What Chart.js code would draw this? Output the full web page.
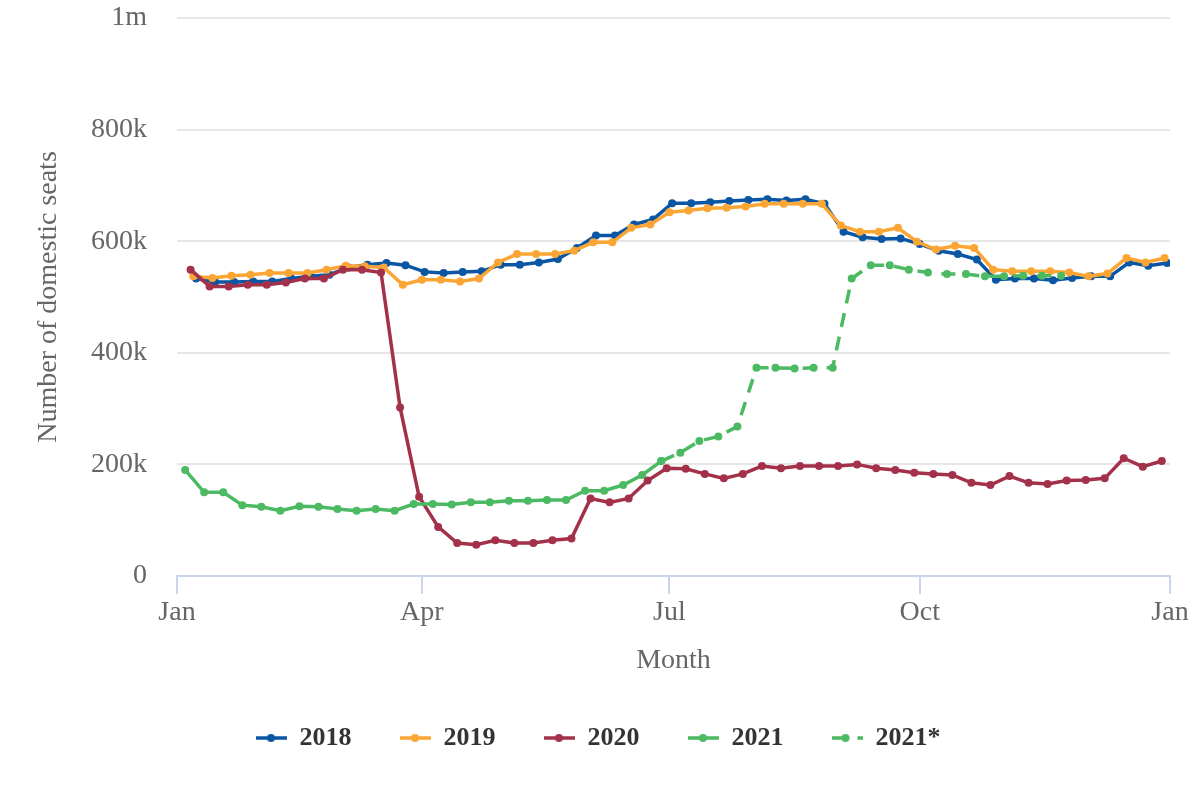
<!DOCTYPE html>
<html>
<head>
<meta charset="utf-8">
<title>Domestic seats</title>
<script src="https://cdn.jsdelivr.net/npm/chart.js@4.4.1/dist/chart.umd.min.js"></script>
<style>
    body { margin: 0; background: #ffffff; }
    #wrap { width: 1200px; height: 800px; }
</style>
</head>
<body>
<div id="wrap"><canvas id="seatsChart" width="1200" height="800"></canvas></div>
<script>
// Weekly domestic seats, one value per week
const seriesNames = ['2018', '2019', '2020', '2021', '2021*'];
const seriesColors = ['#0b56a3', '#fba634', '#a3314a', '#4cb963', '#4cb963'];
// day of year of each series' first week
const startDays = [7, 6, 5, 3, 178];

const seats2018 = [533000, 527000, 527000, 528000, 528000, 533000, 537000, 540000, 553000, 558000,
    561000, 557000, 545000, 543000, 545000, 546000, 558000, 558000, 562000, 568000,
    588000, 610000, 610000, 630000, 639000, 668000, 668000, 670000, 672000, 674000,
    675000, 673000, 675000, 667000, 617000, 607000, 604000, 605000, 595000, 583000,
    577000, 567000, 531000, 533000, 533000, 530000, 534000, 537000, 537000, 562000,
    556000, 561000];
const seats2019 = [537000, 534000, 538000, 540000, 543000, 543000, 543000, 549000, 556000, 555000,
    553000, 522000, 531000, 531000, 528000, 533000, 562000, 577000, 577000, 577000,
    583000, 598000, 598000, 624000, 630000, 652000, 655000, 659000, 660000, 662000,
    667000, 667000, 667000, 667000, 628000, 617000, 617000, 624000, 599000, 585000,
    592000, 588000, 549000, 546000, 546000, 546000, 544000, 537000, 542000, 570000,
    562000, 570000];
const seats2020 = [549000, 519000, 519000, 522000, 522000, 526000, 533000, 533000, 549000, 549000,
    544000, 302000, 142000, 88000, 59000, 56000, 64000, 59000, 59000, 64000,
    67000, 139000, 132000, 139000, 171000, 193000, 192000, 183000, 175000, 183000,
    197000, 193000, 197000, 197000, 197000, 200000, 193000, 190000, 185000, 183000,
    181000, 167000, 163000, 179000, 167000, 165000, 171000, 172000, 175000, 211000,
    196000, 206000];
const seats2021 = [190000, 150000, 150000, 127000, 124000, 117000, 125000, 124000, 120000, 117000,
    120000, 117000, 129000, 129000, 128000, 132000, 132000, 135000, 135000, 136000,
    136000, 153000, 153000, 163000, 181000, 206000];
// 2021* : scheduled seats from the end of June
const seats2021Sched = [206000, 221000, 242000, 250000, 268000, 373000, 373000, 372000, 373000, 373000,
    533000, 557000, 557000, 549000, 544000, 541000, 541000, 537000, 537000, 538000,
    538000, 538000];

const monthTickDays = [0, 90, 181, 273, 365];
const monthLabels = ['Jan', 'Apr', 'Jul', 'Oct', 'Jan'];
const yTickValues = [0, 200000, 400000, 600000, 800000, 1000000];
const yTickLabels = ['0', '200k', '400k', '600k', '800k', '1m'];

const allSeries = [seats2018, seats2019, seats2020, seats2021, seats2021Sched];

function toPoints(start, values) {
    return values.map((v, i) => ({ x: start + 7 * i, y: v }));
}

// little line + dot picture for the legend
function legendIcon(color, dashed) {
    const c = document.createElement('canvas');
    c.width = 31;
    c.height = 10;
    const g = c.getContext('2d');
    g.strokeStyle = color;
    g.fillStyle = color;
    g.lineWidth = 3.5;
    if (dashed) g.setLineDash([17, 9]);
    g.beginPath();
    g.moveTo(0, 5);
    g.lineTo(31, 5);
    g.stroke();
    g.beginPath();
    g.arc(dashed ? 14 : 15.5, 5, 4, 0, Math.PI * 2);
    g.fill();
    return c;
}

const icons = seriesNames.map((n, i) => legendIcon(seriesColors[i], i === 4));

Chart.defaults.font.family = '"Liberation Serif", "Times New Roman", serif';

const datasets = seriesNames.map((name, i) => ({
    label: name,
    data: toPoints(startDays[i], allSeries[i]),
    borderColor: seriesColors[i],
    backgroundColor: seriesColors[i],
    borderWidth: 3.5,
    borderDash: i === 4 ? [14, 10] : [],
    pointRadius: 4,
    pointBorderWidth: 0,
    pointBackgroundColor: seriesColors[i],
    tension: 0,
    fill: false,
    order: 5 - i // later series on top
}));

const ctx = document.getElementById('seatsChart').getContext('2d');
let seatsChart = new Chart(ctx, {
    type: 'line',
    data: { datasets: datasets },
    options: {
        responsive: false,
        animation: false,
        events: [],
        layout: {
            padding: { left: 26, right: 30, top: 18, bottom: 39 }
        },
        scales: {
            x: {
                type: 'linear',
                min: 0,
                max: 365,
                afterBuildTicks: function(scale) {
                    scale.ticks = monthTickDays.map(d => ({ value: d }));
                },
                afterFit: function(scale) {
                    scale.height = 101;
                },
                ticks: {
                    autoSkip: false,
                    maxRotation: 0,
                    padding: 2,
                    color: '#666666',
                    font: { size: 28 },
                    callback: function(value) {
                        return monthLabels[monthTickDays.indexOf(value)];
                    }
                },
                grid: {
                    drawOnChartArea: false,
                    drawTicks: true,
                    tickLength: 18,
                    color: '#ccd6eb',
                    lineWidth: 2
                },
                border: { display: true, color: '#ccd6eb', width: 2 },
                title: {
                    display: true,
                    text: 'Month',
                    color: '#666666',
                    font: { size: 28 },
                    padding: { top: 0, bottom: 0 }
                }
            },
            y: {
                min: 0,
                max: 1000000,
                afterBuildTicks: function(scale) {
                    scale.ticks = yTickValues.map(v => ({ value: v }));
                },
                afterFit: function(scale) {
                    scale.width = 151;
                },
                ticks: {
                    padding: 0,
                    color: '#666666',
                    font: { size: 28 },
                    callback: function(value) {
                        return yTickLabels[yTickValues.indexOf(value)];
                    }
                },
                grid: {
                    drawTicks: true,
                    tickLength: 30,
                    tickColor: 'rgba(0,0,0,0)',
                    lineWidth: 2,
                    color: function(c) {
                        return c.tick && c.tick.value === 0 ? 'rgba(0,0,0,0)' : '#e6e6e6';
                    }
                },
                border: { display: false },
                title: {
                    display: true,
                    text: 'Number of domestic seats',
                    color: '#666666',
                    font: { size: 28 },
                    padding: { top: 6, bottom: 0 }
                }
            }
        },
        plugins: {
            legend: {
                display: true,
                position: 'bottom',
                labels: {
                    usePointStyle: true,
                    pointStyleWidth: 31,
                    padding: 48,
                    color: '#333333',
                    font: { size: 26, weight: 'bold' },
                    sort: (a, b) => a.datasetIndex - b.datasetIndex,
                    generateLabels: function(chart) {
                        const items = Chart.defaults.plugins.legend.labels.generateLabels(chart);
                        items.forEach(item => {
                            item.pointStyle = icons[item.datasetIndex];
                        });
                        return items;
                    }
                }
            },
            tooltip: { enabled: false }
        }
    }
});
</script>
</body>
</html>
